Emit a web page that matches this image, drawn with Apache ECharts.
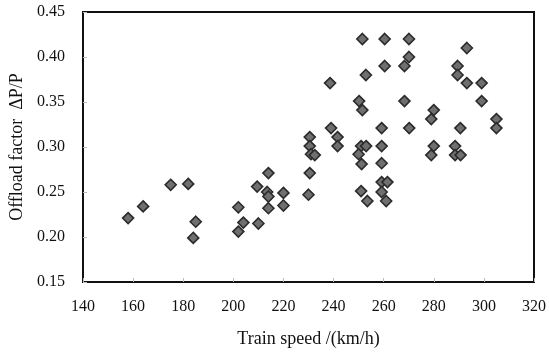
<!DOCTYPE html>
<html>
<head>
<meta charset="utf-8">
<script src="https://cdn.jsdelivr.net/npm/echarts@6/dist/echarts.min.js"></script>
<style>
  html, body { margin: 0; padding: 0; background: #fff; }
  #chart { width: 549px; height: 354px; }
</style>
</head>
<body>
<div id="chart"></div>
<script>
// train speed (km/h) and offload factor dP/P
const speeds = [
  158, 164, 175, 182, 185, 184, 202, 202, 204, 210,
  209.5, 214, 213.5, 214, 214, 220, 220, 230.5, 230.5, 231,
  232.5, 230.5, 230, 238.6, 239, 241.6, 241.6, 251.5, 260.4, 270.1,
  293.2, 270.1, 268.3, 260.4, 252.9, 289.5, 289.5, 293.2, 299.1, 299.1,
  268.3, 250.2, 251.5, 280, 279, 305, 305, 290.6, 270.2, 259.2,
  251, 253, 259.2, 250, 251.2, 259.2, 280, 279, 288.5, 288.5,
  290.7, 259.2, 261.5, 259.2, 251, 253.5, 261
];
const factors = [
  0.221, 0.234, 0.258, 0.259, 0.217, 0.199, 0.233, 0.206, 0.216, 0.215,
  0.256, 0.271, 0.250, 0.245, 0.232, 0.249, 0.235, 0.311, 0.301, 0.292,
  0.291, 0.271, 0.247, 0.371, 0.321, 0.311, 0.301, 0.420, 0.420, 0.420,
  0.410, 0.400, 0.390, 0.390, 0.380, 0.390, 0.380, 0.371, 0.371, 0.351,
  0.351, 0.351, 0.341, 0.341, 0.331, 0.331, 0.321, 0.321, 0.321, 0.321,
  0.301, 0.301, 0.301, 0.292, 0.281, 0.282, 0.301, 0.291, 0.301, 0.291,
  0.291, 0.261, 0.261, 0.250, 0.251, 0.240, 0.240
];
const xTicks = [140, 160, 180, 200, 220, 240, 260, 280, 300, 320];
const yTicks = [0.15, 0.20, 0.25, 0.30, 0.35, 0.40, 0.45];

const font = "Liberation Serif";
const points = speeds.map((s, i) => [s, factors[i]]);

const chart = echarts.init(document.getElementById("chart"));
chart.setOption({
  backgroundColor: "#fff",
  animation: false,
  grid: {
    left: 83,
    right: 12,
    top: 12,
    bottom: 72,
    show: true,
    borderColor: "#111",
    borderWidth: 2,
  },
  xAxis: {
    type: "value",
    min: xTicks[0],
    max: xTicks[xTicks.length - 1],
    interval: 20,
    name: "Train speed /(km/h)",
    nameLocation: "middle",
    nameGap: 48,
    nameTextStyle: { fontFamily: font, fontSize: 18, color: "#111" },
    axisLine: { show: true, lineStyle: { color: "#111", width: 2 } },
    axisTick: { show: true, inside: true, length: 4, lineStyle: { color: "#bbb" } },
    axisLabel: { fontFamily: font, fontSize: 16, color: "#111", margin: 17 },
    splitLine: { show: false },
  },
  yAxis: {
    type: "value",
    min: yTicks[0],
    max: yTicks[yTicks.length - 1],
    interval: 0.05,
    name: "Offload factor  ΔP/P",
    nameLocation: "middle",
    nameGap: 56,
    nameTextStyle: { fontFamily: font, fontSize: 18, color: "#111" },
    axisLine: { show: true, lineStyle: { color: "#111", width: 2 } },
    axisTick: { show: true, inside: true, length: 4, lineStyle: { color: "#bbb" } },
    axisLabel: {
      fontFamily: font,
      fontSize: 16,
      color: "#111",
      margin: 18,
      formatter: (v) => v.toFixed(2),
    },
    splitLine: { show: false },
  },
  series: [
    {
      type: "scatter",
      data: points,
      symbol: "diamond",
      symbolSize: [11, 11],
      itemStyle: {
        color: "#6f6f6f",
        borderColor: "#2b2b2b",
        borderWidth: 1.6,
        opacity: 1,
      },
    },
  ],
});
</script>
</body>
</html>
